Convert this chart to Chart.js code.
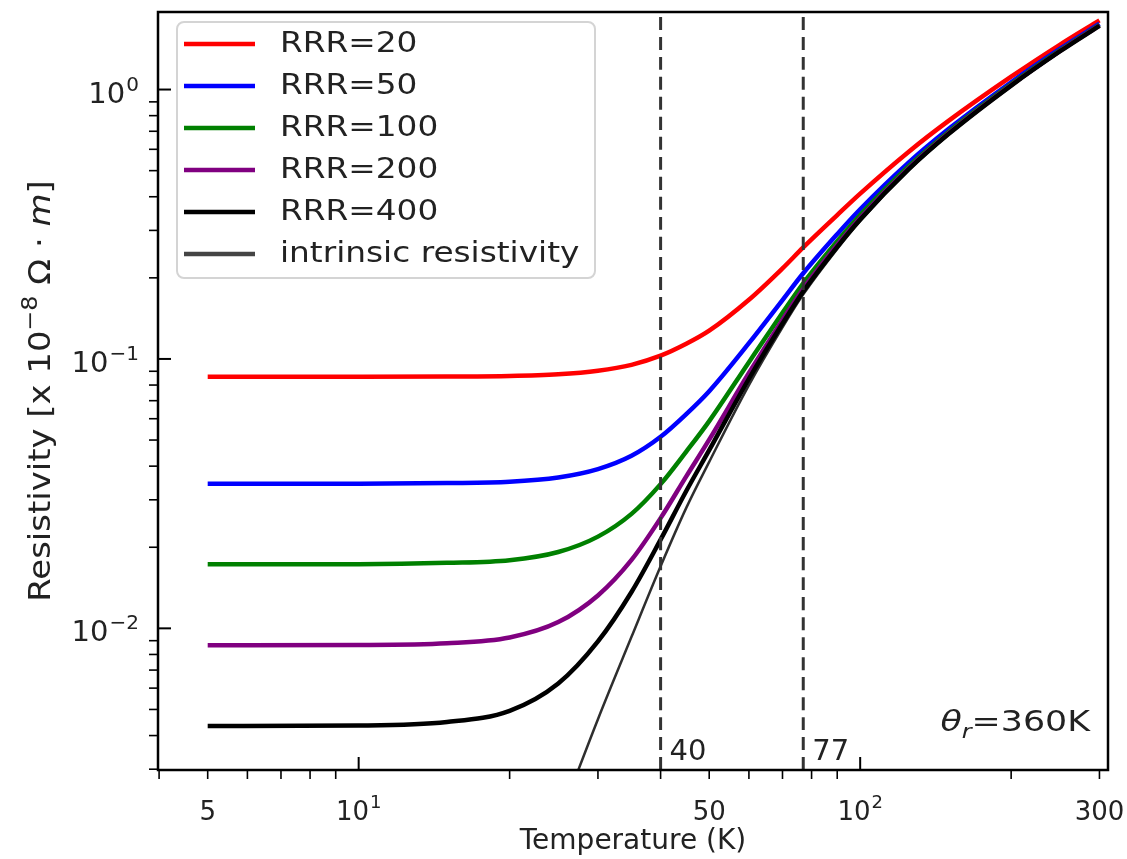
<!DOCTYPE html>
<html>
<head>
<meta charset="utf-8">
<script src="https://cdn.jsdelivr.net/npm/chart.js@4.4.0/dist/chart.umd.min.js"></script>
<style>
  html, body { margin: 0; padding: 0; background: #fff; }
</style>
</head>
<body>
<canvas id="chart" width="1127" height="859"></canvas>
<script>
// Temperaturas (K) donde se leen las curvas
const temps = [5, 10, 15, 20, 25, 30, 35, 40, 45, 50, 60, 70, 77, 90, 100, 125, 150, 200, 250, 300];

// Resistividad [x 1e-8 Ohm m] para cada RRR
const rrr20  = [0.0858, 0.0858, 0.0860, 0.0864, 0.0877, 0.0904, 0.0951, 0.1028, 0.1138, 0.1273, 0.1658, 0.2168, 0.2594, 0.3420, 0.4107, 0.5878, 0.7648, 1.1158, 1.4658, 1.8058];
const rrr50  = [0.0344, 0.0344, 0.0346, 0.0350, 0.0363, 0.0390, 0.0437, 0.0514, 0.0624, 0.0759, 0.1144, 0.1654, 0.2080, 0.2906, 0.3593, 0.5364, 0.7134, 1.0644, 1.4144, 1.7544];
const rrr100 = [0.0173, 0.0173, 0.0175, 0.0179, 0.0192, 0.0219, 0.0266, 0.0343, 0.0453, 0.0588, 0.0973, 0.1483, 0.1909, 0.2735, 0.3422, 0.5193, 0.6963, 1.0473, 1.3973, 1.7373];
const rrr200 = [0.00865, 0.00867, 0.0088, 0.00925, 0.01055, 0.01325, 0.01795, 0.02565, 0.03665, 0.05015, 0.08865, 0.13965, 0.18225, 0.26485, 0.33355, 0.51065, 0.68765, 1.03865, 1.38865, 1.72865];
const rrr400 = [0.00434, 0.00436, 0.00449, 0.00494, 0.00624, 0.00894, 0.01364, 0.02134, 0.03234, 0.04584, 0.08434, 0.13534, 0.17794, 0.26054, 0.32924, 0.50634, 0.68334, 1.03434, 1.38434, 1.72434];

// Resistividad intrínseca
const intrinsicTemps  = [25, 30, 35, 40, 45, 50, 60, 70, 77, 90, 100, 125, 150, 200, 250, 300];
const intrinsicValues = [0.0019, 0.0046, 0.0093, 0.017, 0.028, 0.0415, 0.080, 0.131, 0.1736, 0.2562, 0.3249, 0.502, 0.679, 1.03, 1.38, 1.72];

// Líneas verticales de referencia
const markerTemps = [40, 77];

const seriesLabels = ['RRR=20', 'RRR=50', 'RRR=100', 'RRR=200', 'RRR=400', 'intrinsic resistivity'];
const seriesColors = ['#ff0000', '#0000ff', '#008000', '#800080', '#000000', 'rgba(0,0,0,0.82)'];

// Límites de ejes
const xMin = 3.98, xMax = 312;
const yMin = 0.00298, yMax = 1.94;

const xTickValues = [4, 5, 6, 7, 8, 9, 10, 20, 30, 40, 50, 60, 70, 80, 90, 100, 200, 300];
const xTickLabels = { 5: ['5'], 10: ['10', '1'], 50: ['50'], 100: ['10', '2'], 300: ['300'] };
const yTickValues = [0.003, 0.004, 0.005, 0.006, 0.007, 0.008, 0.009,
                     0.01, 0.02, 0.03, 0.04, 0.05, 0.06, 0.07, 0.08, 0.09,
                     0.1, 0.2, 0.3, 0.4, 0.5, 0.6, 0.7, 0.8, 0.9, 1];
const yTickLabels = { 1: ['10', '0'], 0.1: ['10', '−1'], 0.01: ['10', '−2'] };

const FONT = 'DejaVu Sans';
const TXT = '#222';
Chart.defaults.font.family = FONT;
Chart.defaults.color = TXT;

const toPoints = (xs, ys) => xs.map((t, i) => ({ x: t, y: ys[i] }));
const isMajor = v => Math.abs(Math.log10(v) - Math.round(Math.log10(v))) < 1e-9;
const font = (size, style) => (style ? style + ' ' : '') + size + 'px "' + FONT + '"';

const curves = [rrr20, rrr50, rrr100, rrr200, rrr400];
const datasets = curves.map((vals, i) => ({
    label: seriesLabels[i],
    data: toPoints(temps, vals),
    borderColor: seriesColors[i],
    borderWidth: 4.5,
    order: 10 - i
}));
datasets.push({
    label: seriesLabels[5],
    data: toPoints(intrinsicTemps, intrinsicValues),
    borderColor: seriesColors[5],
    borderWidth: 2.5,
    order: 2
});
markerTemps.forEach(t => {
    datasets.push({
        label: 'marker ' + t,
        data: [{ x: t, y: yMin }, { x: t, y: yMax }],
        borderColor: '#333',
        borderWidth: 3,
        borderDash: [13, 7],
        order: 1
    });
});

// Dibuja "base" + superíndice opcional; devuelve el ancho
function powWidth(ctx, parts, size) {
    ctx.font = font(size);
    let w = ctx.measureText(parts[0]).width;
    if (parts[1]) { ctx.font = font(Math.round(size * 0.7)); w += ctx.measureText(parts[1]).width + 1; }
    return w;
}
function drawPow(ctx, parts, x, base, size) {
    ctx.font = font(size);
    ctx.fillText(parts[0], x, base);
    if (parts[1]) {
        const w = ctx.measureText(parts[0]).width;
        ctx.font = font(Math.round(size * 0.7));
        ctx.fillText(parts[1], x + w + 1, base - 12);
    }
}

// Marcas y etiquetas de ejes (mayores hacia adentro, menores hacia afuera)
const axesDecor = {
    id: 'axesDecor',
    afterDraw(chart) {
        const { ctx, chartArea: a, scales: { x, y } } = chart;
        ctx.save();
        ctx.strokeStyle = '#000';
        ctx.fillStyle = TXT;
        ctx.textAlign = 'left';
        ctx.textBaseline = 'alphabetic';
        x.ticks.forEach(t => {
            const px = x.getPixelForValue(t.value);
            const major = isMajor(t.value);
            ctx.lineWidth = major ? 2 : 1.6;
            ctx.beginPath();
            ctx.moveTo(px, a.bottom);
            ctx.lineTo(px, major ? a.bottom - 13 : a.bottom + 9);
            ctx.stroke();
            const lab = xTickLabels[t.value];
            if (lab) {
                const w = powWidth(ctx, lab, 26);
                drawPow(ctx, lab, px - w / 2, a.bottom + 50, 26);
            }
        });
        y.ticks.forEach(t => {
            const py = y.getPixelForValue(t.value);
            const major = isMajor(t.value);
            ctx.lineWidth = major ? 2 : 1.6;
            ctx.beginPath();
            ctx.moveTo(a.left, py);
            ctx.lineTo(major ? a.left + 13 : a.left - 9, py);
            ctx.stroke();
            const lab = yTickLabels[t.value];
            if (lab) {
                const w = powWidth(ctx, lab, 29);
                drawPow(ctx, lab, a.left - 19 - w, py + 13, 29);
            }
        });
        ctx.lineWidth = 2.5;
        ctx.strokeRect(a.left, a.top, a.right - a.left, a.bottom - a.top);

        // Título del eje y (rotado, algo estirado como en la figura)
        const parts = [
            ['Resistivity [x 10', font(30)],
            ['−8', font(21), -13],
            [' Ω · ', font(30)],
            ['m', font(30, 'italic')],
            [']', font(30)]
        ];
        const sx = 1.13;
        let total = 0;
        parts.forEach(p => { ctx.font = p[1]; total += ctx.measureText(p[0]).width; });
        ctx.translate(50, (a.top + a.bottom) / 2);
        ctx.rotate(-Math.PI / 2);
        ctx.scale(sx, 1);
        let cx = -total / 2;
        parts.forEach(p => {
            ctx.font = p[1];
            ctx.fillText(p[0], cx, p[2] || 0);
            cx += ctx.measureText(p[0]).width;
        });
        ctx.restore();
    }
};

// Textos: 40, 77 y theta_r
const annotations = {
    id: 'annotations',
    afterDraw(chart) {
        const { ctx, chartArea: a, scales: { x } } = chart;
        ctx.save();
        ctx.fillStyle = TXT;
        ctx.textBaseline = 'alphabetic';
        ctx.font = font(29);
        markerTemps.forEach(t => {
            ctx.fillText(String(t), x.getPixelForValue(t) + 9, a.bottom - 10);
        });
        // theta_r = 360K (estirado horizontalmente como en la figura)
        const sx = 1.2;
        const parts = [['θ', font(29, 'italic'), 0], ['r', font(20, 'italic'), 7], ['=360K', font(29), 0]];
        let total = 0;
        parts.forEach(p => { ctx.font = p[1]; total += ctx.measureText(p[0]).width; });
        ctx.translate(a.right - 18 - total * sx, a.bottom - 39);
        ctx.scale(sx, 1);
        let cx = 0;
        parts.forEach(p => {
            ctx.font = p[1];
            ctx.fillText(p[0], cx, p[2]);
            cx += ctx.measureText(p[0]).width;
        });
        ctx.restore();
    }
};

// Leyenda estilo matplotlib dentro del área del gráfico
const boxLegend = {
    id: 'boxLegend',
    afterDraw(chart) {
        const { ctx, chartArea: a } = chart;
        const bx = a.left + 19, by = a.top + 10, bw = 418, bh = 256;
        ctx.save();
        ctx.fillStyle = 'rgba(255,255,255,0.9)';
        ctx.strokeStyle = '#d4d4d4';
        ctx.lineWidth = 2;
        ctx.beginPath();
        ctx.roundRect(bx, by, bw, bh, 7);
        ctx.fill();
        ctx.stroke();
        ctx.font = font(28);
        ctx.textBaseline = 'middle';
        ctx.fillStyle = TXT;
        seriesLabels.forEach((lab, i) => {
            const ly = by + 22 + i * 42;
            ctx.strokeStyle = i === 5 ? '#444' : seriesColors[i];
            ctx.lineWidth = 4.5;
            ctx.beginPath();
            ctx.moveTo(bx + 7, ly);
            ctx.lineTo(bx + 78, ly);
            ctx.stroke();
            ctx.save();
            ctx.translate(bx + 103, ly + 1);
            ctx.scale(1.17, 1);
            ctx.fillText(lab, 0, 0);
            ctx.restore();
        });
        ctx.restore();
    }
};

new Chart(document.getElementById('chart'), {
    type: 'scatter',
    data: { datasets: datasets },
    options: {
        responsive: false,
        animation: false,
        showLine: true,
        layout: { padding: { top: 12, right: 19, left: 0, bottom: 0 } },
        elements: {
            point: { radius: 0, hoverRadius: 0 },
            line: { cubicInterpolationMode: 'monotone', fill: false }
        },
        plugins: {
            legend: { display: false },
            tooltip: { enabled: false }
        },
        scales: {
            x: {
                type: 'logarithmic',
                min: xMin,
                max: xMax,
                grid: { display: false, drawTicks: false },
                border: { display: false },
                afterBuildTicks: scale => { scale.ticks = xTickValues.map(v => ({ value: v })); },
                afterFit: scale => {
                    scale.height = 89;
                    scale.paddingLeft = 0;
                    scale.paddingRight = 0;
                },
                ticks: { display: false },
                title: {
                    display: true,
                    text: 'Temperature (K)',
                    color: TXT,
                    font: { size: 28 },
                    padding: { top: 0, bottom: 0 }
                }
            },
            y: {
                type: 'logarithmic',
                min: yMin,
                max: yMax,
                grid: { display: false, drawTicks: false },
                border: { display: false },
                afterBuildTicks: scale => { scale.ticks = yTickValues.map(v => ({ value: v })); },
                afterFit: scale => {
                    scale.width = 158;
                    scale.paddingTop = 0;
                    scale.paddingBottom = 0;
                },
                ticks: { display: false }
            }
        }
    },
    plugins: [axesDecor, annotations, boxLegend]
});
</script>
</body>
</html>
